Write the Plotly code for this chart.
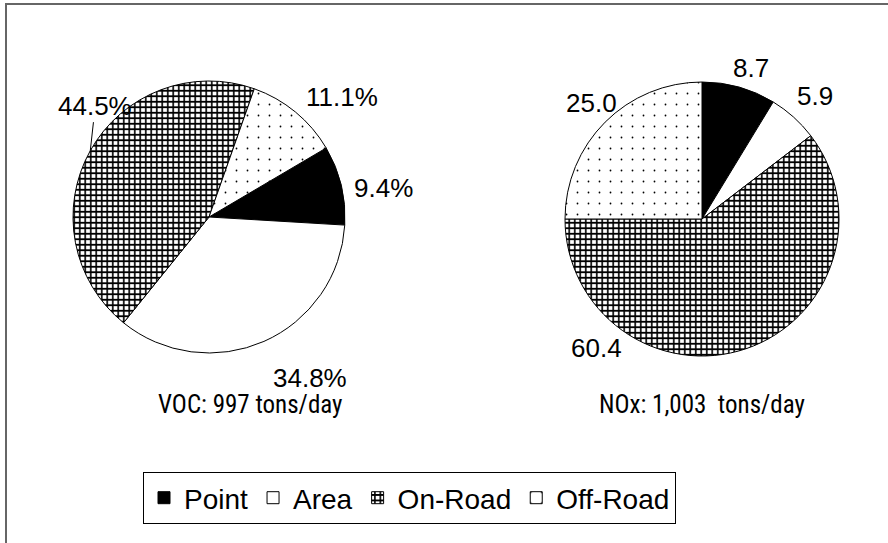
import math
import plotly.graph_objects as go

W, H = 888, 543

# Emission source categories (shared by both pies)
categories = ["Point", "Area", "On-Road", "Off-Road"]
voc_pct = [9.4, 34.8, 44.5, 11.1]
nox_pct = [8.7, 5.9, 60.4, 25.0]
voc_label_fmt = "{:.1f}%"
nox_label_fmt = "{:.1f}"
voc_title = "VOC: 997 tons/day"
nox_title = "NOx: 1,003\u00a0 tons/day"

# Fill styling per category
fill_colors = ["black", "white", "white", "white"]
pattern_shapes = ["", "", "+", "."]
pattern_sizes = [8, 8, 5.5, 11]
pattern_solidity = [0.3, 0.3, 0.5, 0.02]

# Pie geometry in pixels: center x, center y, radius, start rotation (deg clockwise from 12)
voc_geom = dict(cx=209, cy=217, r=136, rot=59.5)
nox_geom = dict(cx=702, cy=219, r=137, rot=0)

# Label text offsets (pixels) from the slice's mid-arc point
voc_label_shift = [(42, 3), (46, 37), (5, -45), (47, -15)]
nox_label_shift = [(12, -19), (21, -21), (-149, -1), (-14, -19)]
voc_arrow = [False, False, True, False]
nox_arrow = [False, False, False, False]

LABEL_FONT = dict(family="Liberation Sans, Arial, sans-serif", size=26, color="black")
TITLE_FONT = dict(family="Liberation Sans Narrow, Roboto Condensed, Roboto, sans-serif", size=25, color="black")
LEGEND_FONT = dict(family="Liberation Sans, Arial, sans-serif", size=28, color="black")


def px(x):
    return x / W


def py(y):
    return 1 - y / H


def pie_trace(values, g, showlegend):
    return go.Pie(
        labels=categories,
        values=values,
        sort=False,
        direction="clockwise",
        rotation=g["rot"],
        textinfo="none",
        hoverinfo="label+value",
        showlegend=showlegend,
        domain=dict(x=[px(g["cx"] - g["r"]), px(g["cx"] + g["r"])],
                    y=[py(g["cy"] + g["r"]), py(g["cy"] - g["r"])]),
        marker=dict(
            colors=fill_colors,
            line=dict(color="black", width=1),
            pattern=dict(shape=pattern_shapes, size=pattern_sizes,
                         solidity=pattern_solidity, fgcolor="black",
                         bgcolor=fill_colors, fillmode="replace"),
        ),
    )


def slice_labels(values, g, fmt, shifts, arrows):
    anns = []
    total = sum(values)
    start = g["rot"]
    for v, (dx, dy), arrow in zip(values, shifts, arrows):
        span = 360 * v / total
        mid = math.radians(start + span / 2)
        start += span
        ax_ = g["cx"] + g["r"] * math.sin(mid)
        ay_ = g["cy"] - g["r"] * math.cos(mid)
        if arrow:
            anns.append(dict(x=px(ax_), y=py(ay_), xref="paper", yref="paper",
                             text=fmt.format(v), font=LABEL_FONT, showarrow=True,
                             arrowhead=0, arrowwidth=1, arrowcolor="black",
                             ax=dx, ay=dy, standoff=0))
        else:
            anns.append(dict(x=px(ax_ + dx), y=py(ay_ + dy), xref="paper", yref="paper",
                             text=fmt.format(v), font=LABEL_FONT, showarrow=False,
                             xanchor="center", yanchor="middle"))
    return anns


fig = go.Figure()
fig.add_trace(pie_trace(voc_pct, voc_geom, True))
fig.add_trace(pie_trace(nox_pct, nox_geom, False))

annotations = []
annotations += slice_labels(voc_pct, voc_geom, voc_label_fmt, voc_label_shift, voc_arrow)
annotations += slice_labels(nox_pct, nox_geom, nox_label_fmt, nox_label_shift, nox_arrow)
annotations.append(dict(x=px(250), y=py(404), xref="paper", yref="paper", text=voc_title,
                        font=TITLE_FONT, showarrow=False, xanchor="center", yanchor="middle"))
annotations.append(dict(x=px(702), y=py(404), xref="paper", yref="paper", text=nox_title,
                        font=TITLE_FONT, showarrow=False, xanchor="center", yanchor="middle"))

fig.update_layout(
    width=W, height=H,
    margin=dict(l=0, r=0, t=0, b=0),
    paper_bgcolor="white",
    plot_bgcolor="white",
    annotations=annotations,
    legend=dict(
        orientation="h",
        x=px(143), y=py(472), xanchor="left", yanchor="top",
        bordercolor="black", borderwidth=1, bgcolor="white",
        font=LEGEND_FONT,
        itemclick=False, itemdoubleclick=False,
    ),
    shapes=[dict(type="rect", xref="paper", yref="paper",
                 x0=px(6), x1=1.2, y0=-0.2, y1=py(4),
                 line=dict(color="#666666", width=2))],
)

fig.write_html("out.html")
